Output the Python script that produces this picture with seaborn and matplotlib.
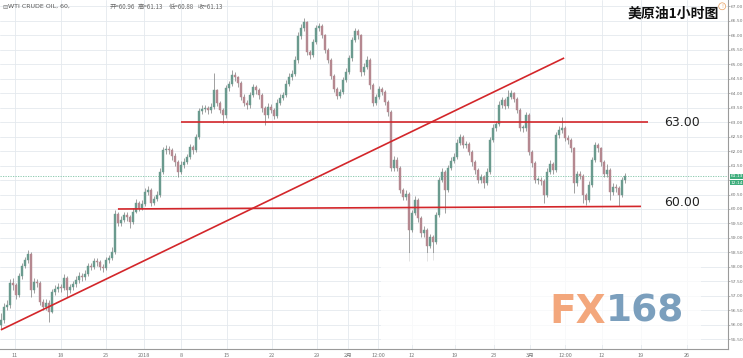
import numpy as np
import pandas as pd
import matplotlib
matplotlib.use("Agg")
import matplotlib.pyplot as plt
import matplotlib.transforms as mtransforms
import seaborn as sns

# ---------------- data ----------------
first_open = 56.00
close = [56.17, 56.62, 56.69, 57.45, 57.38, 57.03, 57.69, 58.03, 58.24, 58.45,
         57.21, 57.48, 57.45, 56.79, 56.62, 56.76, 56.45, 57.14, 57.24, 57.31,
         57.28, 57.62, 57.21, 57.31, 57.41, 57.55, 57.69, 57.66, 57.76, 58.03,
         58.00, 58.21, 58.17, 58.00, 57.97, 58.24, 58.31, 58.52, 59.83, 59.52,
         59.62, 59.79, 59.72, 59.55, 59.90, 60.21, 60.03, 60.17, 60.59, 60.66,
         60.21, 60.34, 60.48, 61.28, 62.03, 62.07, 62.03, 61.83, 61.62, 61.28,
         61.52, 61.62, 61.79, 62.14, 62.03, 62.48, 63.38, 63.45, 63.48, 63.41,
         63.52, 64.10, 63.66, 63.41, 63.24, 64.17, 64.31, 64.62, 64.55, 64.34,
         63.86, 63.66, 63.59, 63.93, 64.21, 64.10, 63.93, 63.48, 63.24, 63.52,
         63.41, 63.21, 63.66, 63.83, 63.93, 64.31, 64.55, 64.66, 65.14, 65.97,
         66.24, 66.45, 65.41, 65.31, 65.76, 66.24, 66.31, 66.00, 65.48, 65.14,
         64.59, 64.14, 63.90, 64.03, 64.45, 64.72, 65.21, 65.83, 66.14, 66.00,
         64.72, 64.90, 65.14, 64.28, 63.66, 63.86, 64.14, 64.03, 63.69, 63.34,
         61.41, 61.69, 61.41, 60.66, 60.41, 60.52, 59.28, 59.86, 60.31, 59.69,
         59.17, 59.28, 58.72, 59.03, 58.86, 59.79, 61.00, 61.28, 60.66, 61.41,
         61.66, 61.79, 62.28, 62.48, 62.21, 62.24, 61.97, 61.62, 61.34, 61.00,
         61.10, 60.90, 61.28, 62.38, 62.79, 62.93, 63.59, 63.76, 63.55, 63.86,
         64.00, 63.79, 63.41, 62.79, 62.79, 63.24, 61.97, 61.59, 61.00, 61.00,
         60.97, 60.48, 61.28, 61.55, 61.34, 62.55, 62.72, 62.79, 62.45, 62.38,
         62.10, 60.90, 61.21, 61.14, 60.48, 60.31, 60.83, 61.69, 62.21, 62.10,
         61.62, 61.21, 61.34, 60.59, 60.76, 60.72, 60.48, 61.00, 61.13]

high = [56.40, 56.75, 56.85, 57.60, 57.62, 57.45, 57.80, 58.15, 58.35, 58.60,
        58.50, 57.62, 57.60, 57.50, 56.90, 56.88, 56.85, 57.25, 57.38, 57.45,
        57.42, 57.75, 57.68, 57.42, 57.52, 57.68, 57.82, 57.80, 57.90, 58.15,
        58.12, 58.32, 58.30, 58.25, 58.10, 58.35, 58.42, 58.68, 59.95, 59.90,
        59.75, 59.90, 59.88, 59.80, 60.02, 60.35, 60.28, 60.30, 60.72, 60.80,
        60.72, 60.45, 60.62, 61.40, 62.15, 62.20, 62.18, 62.10, 61.92, 61.70,
        61.65, 61.75, 61.90, 62.25, 62.22, 62.60, 63.50, 63.58, 63.60, 63.55,
        63.65, 64.69, 64.15, 63.72, 63.50, 64.28, 64.42, 64.78, 64.72, 64.60,
        64.40, 63.95, 63.75, 64.05, 64.32, 64.28, 64.18, 64.00, 63.55, 63.65,
        63.62, 63.48, 63.78, 63.95, 64.05, 64.45, 64.68, 64.80, 65.28, 66.10,
        66.38, 66.59, 66.50, 65.50, 65.88, 66.35, 66.42, 66.38, 66.05, 65.55,
        65.20, 64.65, 64.22, 64.15, 64.55, 64.85, 65.32, 65.95, 66.25, 66.20,
        66.05, 65.05, 65.28, 65.20, 64.35, 63.98, 64.25, 64.22, 64.10, 63.75,
        63.40, 61.82, 61.78, 61.48, 60.72, 60.65, 60.58, 59.98, 60.45, 60.38,
        59.75, 59.40, 59.35, 59.15, 59.12, 59.90, 61.12, 61.40, 61.35, 61.52,
        61.78, 61.92, 62.40, 62.60, 62.55, 62.35, 62.30, 62.05, 61.70, 61.42,
        61.22, 61.18, 61.40, 62.50, 62.92, 63.05, 63.72, 63.88, 63.82, 64.10,
        64.12, 64.05, 63.85, 63.48, 62.90, 63.35, 63.30, 62.05, 61.65, 61.12,
        61.10, 61.05, 61.40, 61.68, 61.62, 62.65, 62.85, 63.17, 62.85, 62.55,
        62.45, 62.15, 61.32, 61.30, 61.20, 60.55, 60.95, 61.80, 62.32, 62.28,
        62.15, 61.70, 61.55, 61.40, 60.88, 60.85, 60.80, 61.12, 61.25]

low = [55.85, 56.05, 56.50, 56.60, 57.20, 56.90, 56.95, 57.60, 57.95, 58.15,
       56.95, 57.10, 57.30, 56.70, 56.50, 56.52, 56.10, 56.40, 57.02, 57.15,
       57.12, 57.20, 56.95, 57.10, 57.22, 57.32, 57.45, 57.52, 57.55, 57.70,
       57.88, 57.92, 58.05, 57.88, 57.82, 57.90, 58.15, 58.25, 58.45, 59.40,
       59.42, 59.55, 59.60, 59.35, 59.48, 59.85, 59.92, 59.95, 60.10, 60.50,
       60.10, 60.15, 60.28, 60.40, 61.20, 61.90, 61.90, 61.70, 61.50, 61.10,
       61.20, 61.42, 61.55, 61.72, 61.90, 61.95, 62.40, 63.28, 63.35, 63.28,
       63.32, 63.45, 63.55, 63.30, 62.97, 63.15, 64.08, 64.25, 64.42, 64.20,
       63.75, 63.55, 63.45, 63.50, 63.85, 63.98, 63.80, 63.35, 62.90, 63.15,
       63.30, 63.10, 63.15, 63.58, 63.75, 63.85, 64.25, 64.45, 64.60, 65.05,
       65.88, 66.15, 65.30, 65.18, 65.25, 65.68, 66.15, 65.90, 65.38, 65.02,
       64.48, 64.02, 63.78, 63.82, 63.95, 64.38, 64.65, 65.12, 65.75, 65.88,
       64.60, 64.62, 64.82, 64.15, 63.55, 63.58, 63.78, 63.92, 63.58, 63.22,
       61.30, 61.30, 61.30, 60.55, 60.30, 60.32, 58.20, 59.20, 59.78, 59.55,
       59.05, 59.05, 58.20, 58.65, 58.25, 58.80, 59.72, 60.92, 59.86, 60.58,
       61.35, 61.58, 61.72, 62.20, 62.10, 62.10, 61.85, 61.50, 61.22, 60.88,
       60.90, 60.72, 60.82, 61.20, 62.30, 62.70, 62.85, 63.50, 63.45, 63.48,
       63.78, 63.68, 63.30, 62.68, 62.65, 62.70, 61.85, 61.45, 60.88, 60.85,
       60.82, 60.20, 60.40, 61.20, 61.22, 61.28, 62.45, 62.62, 62.35, 62.25,
       61.98, 60.55, 60.80, 61.02, 60.20, 60.15, 60.25, 60.75, 61.62, 61.98,
       61.50, 61.10, 61.12, 60.30, 60.48, 60.60, 60.10, 60.40, 60.90]

# drawn support / resistance / trend lines: (start index, start price, end index, end price)
resistance = (60.0, 63.00, 215.7, 63.00)
support = (39.0, 60.00, 213.3, 60.09)
trend = (0.0, 55.83, 187.7, 65.21)
level_labels = ["63.00", "60.00"]
level_label_prices = [63.00, 60.24]

x_tick_pos = [4.67, 20.0, 35.0, 47.67, 60.0, 75.33, 90.33, 105.33, 115.67,
              125.67, 137.0, 151.33, 164.33, 176.33, 188.0, 200.33, 213.33, 228.67]
x_tick_labels = ["11", "18", "25", "2018", "8", "15", "22", "29", "2月",
                 "12:00", "12", "19", "23", "3月", "12:00", "12", "19", "26"]
y_ticks = [55.5, 56.0, 56.5, 57.0, 57.5, 58.0, 58.5, 59.0, 59.5, 60.0, 60.5, 61.0,
           61.5, 62.0, 62.5, 63.0, 63.5, 64.0, 64.5, 65.0, 65.5, 66.0, 66.5, 67.0]
y_hidden_label = 61.0  # covered by the price tag in the reference

title = "美原油1小时图"
header_name = "WTI CRUDE OIL, 60,"
header_ohlc = ["开=60.96", "高=61.13", "低=60.88", "收=61.13"]
countdown = "12:14"
last_price = close[-1]

# ---------------- figure ----------------
sns.set_theme(style="white")
plt.rcParams["font.family"] = ["DejaVu Sans", "Noto Sans CJK SC"]
cjk = ["Noto Sans CJK SC", "DejaVu Sans"]

df = pd.DataFrame({"close": close, "high": high, "low": low})
df["open"] = [first_open] + close[:-1]
df["idx"] = np.arange(len(df))
df["up"] = df["close"] >= df["open"]

fig = plt.figure(figsize=(7.43, 3.58), dpi=100)
ax = fig.add_axes([0.0, 9 / 358, 728 / 743, 349 / 358])
ax.set_xlim(-0.3, 242.3)
ax.set_ylim(55.17, 67.21)

grid_c = "#e4e9ee"
for xp in x_tick_pos:
    ax.axvline(xp, color=grid_c, lw=0.6, zorder=0)
for yp in y_ticks:
    ax.axhline(yp, color=grid_c, lw=0.6, zorder=0)

# candles
up_c, dn_c, wick_c = "#6a9a8e", "#b58890", "#7a7a7a"
ax.vlines(df["idx"], df["low"], df["high"], color=wick_c, lw=0.5, zorder=2)
bottoms = df[["open", "close"]].min(axis=1)
heights = (df["close"] - df["open"]).abs().clip(lower=0.03)
colors = np.where(df["up"], up_c, dn_c)
ax.bar(df["idx"], heights, bottom=bottoms, width=0.45, color=colors,
       edgecolor=colors, linewidth=0.3, zorder=3)

# last price dotted line
ax.axhline(last_price, color="#7cc3a5", lw=0.6, ls=(0, (1.5, 1.5)), zorder=1)

# drawn lines
red = "#d3262a"
for (x0, y0, x1, y1) in (resistance, support, trend):
    ax.plot([x0, x1], [y0, y1], color=red, lw=1.2, zorder=5, solid_capstyle="butt")
for lab, yp in zip(level_labels, level_label_prices):
    ax.text(227.0, yp, lab, fontsize=9, color="#222222", ha="center", va="center")

# watermark
ax.add_patch(plt.Rectangle((126.7, 55.3), 106.6, 3.18, facecolor="white",
                           edgecolor="none", alpha=0.72, zorder=6))
ax.text(201.5, 56.45, "FX", fontsize=28, fontweight="bold", color="#f3a77c",
        ha="right", va="center", zorder=7)
ax.text(201.5, 56.45, "168", fontsize=27, fontweight="bold", color="#7b9fbd",
        ha="left", va="center", zorder=7)

# title
ax.text(224.0, 66.73, title, fontsize=10, fontweight="bold", color="#111111",
        ha="center", va="center", family=cjk, zorder=8)

# header
hy = 66.98
ax.text(0.5, hy, "⊟", fontsize=4.5, color="#777777", va="center", family=cjk)
ax.text(2.3, hy, header_name, fontsize=4.5, color="#555555", va="center")
for xp, s in zip([36.3, 45.6, 56.0, 65.6], header_ohlc):
    ax.text(xp, hy, s, fontsize=4.5, color="#666666", va="center", family=cjk)

# axes styling
for s in ["top", "left"]:
    ax.spines[s].set_visible(False)
for s in ["right", "bottom"]:
    ax.spines[s].set_color("#9a9a9a")
    ax.spines[s].set_linewidth(0.8)
ax.yaxis.tick_right()
ax.set_yticks(y_ticks)
ax.set_yticklabels(["" if v == y_hidden_label else f"{v:.2f}" for v in y_ticks])
ax.set_xticks(x_tick_pos)
ax.set_xticklabels(x_tick_labels, family=cjk)
ax.tick_params(axis="x", labelsize=4.0, labelcolor="#777777", colors="#9a9a9a",
               length=2, width=0.5, pad=1)
ax.tick_params(axis="y", labelsize=3.2, labelcolor="#777777", colors="#9a9a9a",
               length=1.2, width=0.5, pad=0.6)
ax.set_xlabel("")
ax.set_ylabel("")

# current price tag
tr = mtransforms.blended_transform_factory(ax.transAxes, ax.transData)
ax.text(1.0035, last_price, f"{last_price:.2f}", transform=tr, fontsize=3.2,
        color="white", va="center", ha="left", clip_on=False, zorder=9,
        bbox=dict(boxstyle="square,pad=0.12", fc="#3fae7d", ec="none"))
ax.text(1.0035, last_price - 0.23, countdown, transform=tr, fontsize=3.2,
        color="white", va="center", ha="left", clip_on=False, zorder=9,
        bbox=dict(boxstyle="square,pad=0.12", fc="#3fae7d", ec="none"))
# small orange info icon top-right
ax.text(0.992, 0.982, "!", transform=ax.transAxes, fontsize=3.5, color="#e8a060",
        ha="center", va="center",
        bbox=dict(boxstyle="circle,pad=0.2", fc="white", ec="#e8a060", lw=0.5))

fig.savefig("out.png", dpi=100, facecolor="white")
